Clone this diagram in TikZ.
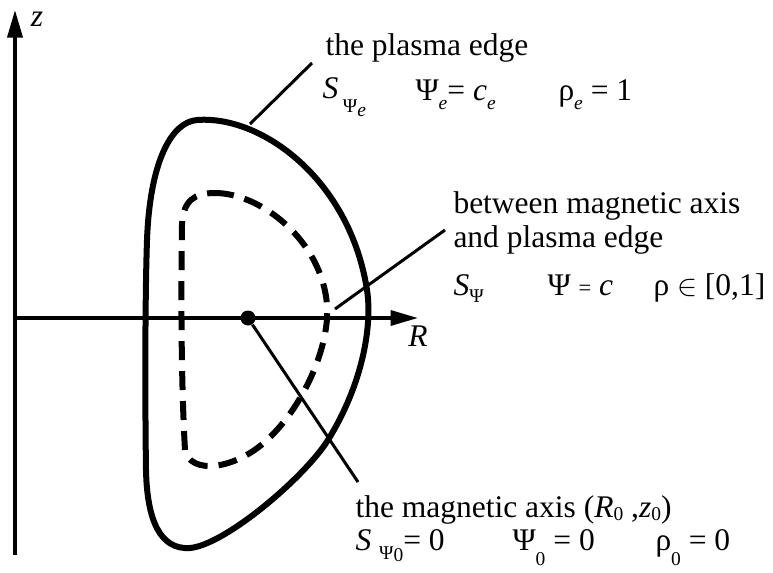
\documentclass[tikz,border=0pt]{standalone}
\usepackage{fontspec}
\setmainfont{Liberation Serif}
\usepackage{tikz}
\usetikzlibrary{arrows.meta,positioning}
\newcommand{\dropsub}[2]{\raisebox{#1}{\fontsize{7.8}{9}\selectfont #2}}

\begin{document}
\begin{tikzpicture}[x=0.4pt,y=-0.4pt,font=\fontsize{12.6}{15}\selectfont,
  txt/.style={inner sep=0pt,anchor=base west},
  axisline/.style={line width=1.4pt,-{Triangle[length=11pt,width=6pt]}},
  edgeline/.style={line width=2.4pt,line join=round},
  fluxline/.style={line width=2.4pt,dash pattern=on 7.6pt off 4.4pt},
  leader/.style={line width=1.2pt}]
  \useasboundingbox (0,0) rectangle (773,573);
  % axes
  \coordinate (zfoot) at (15,555);
  \coordinate (ztip) at (15,10);
  \coordinate (origin) at (15,318);
  \coordinate (Rtip) at (418,318);
  \draw[axisline] (zfoot) -- (ztip);
  \draw[axisline] (origin) -- (Rtip);
  \node[inner sep=0pt] (zlabel) at (37,19) {\textit{z}};
  \node[inner sep=0pt] (Rlabel) at (418,336) {\textit{R}};
  % plasma edge
  \draw[edgeline] (197,120) .. controls (262,115) and (350,180) .. (367,290)
    .. controls (372,322) and (365,380) .. (328,440)
    .. controls (305,477) and (225,545) .. (190,548)
    .. controls (160,550) and (147,520) .. (146,470)
    .. controls (145,400) and (145,300) .. (147,240)
    .. controls (150,160) and (172,122) .. cycle;
  % flux surface
  \draw[fluxline] (215,193) .. controls (260,193) and (322,240) .. (327,305)
    .. controls (330,344) and (305,405) .. (267,440)
    .. controls (235,470) and (190,475) .. (185,450)
    .. controls (181,380) and (181,290) .. (182,225)
    .. controls (183,200) and (195,193) .. cycle;
  % magnetic axis
  \node[circle,fill,inner sep=0pt,minimum size=6pt] (axisdot) at (248,318) {};
  % leaders
  \coordinate (edgetouch) at (250,124);
  \coordinate (edgetip) at (312,63);
  \coordinate (fluxtouch) at (335,309);
  \coordinate (fluxtip) at (445,230);
  \coordinate (axistip) at (358,482);
  \draw[leader] (edgetouch) -- (edgetip);
  \draw[leader] (fluxtouch) -- (fluxtip);
  \draw[leader] (axisdot) -- (axistip);
  % edge labels
  \node[txt] (edgetitle) at (325,55) {the plasma edge};
  \node[txt] (edgeS) at (322,98) {\textit{S}\kern0.15em\dropsub{-5.8pt}{Ψ\raisebox{-1.4pt}{\textit{e}}}};
  \node[txt] (edgePsi) at (415,100) {Ψ\dropsub{-3.6pt}{\textit{e}}= \textit{c}\dropsub{-3.6pt}{\textit{e}}};
  \node[txt] (edgeRho) at (558,100) {ρ\dropsub{-3.6pt}{\textit{e}} = 1};
  % surface labels
  \node[txt] (fluxtitle) at (453,213) {between magnetic axis};
  \node[txt] (fluxtitleb) at (453,247) {and plasma edge};
  \node[txt] (fluxS) at (453,295) {\textit{S}\dropsub{-3pt}{Ψ}};
  \node[txt] (fluxPsi) at (547,295) {Ψ {\fontsize{9}{10}\selectfont =} \textit{c}};
  \node[txt] (fluxRho) at (653,295) {ρ $\in$ [0,1]};
  % axis labels
  \node[txt] (axistitle) at (355,517) {the magnetic axis (\textit{R}\dropsub{-1.5pt}{0} ,\textit{z}\dropsub{-1.5pt}{0})};
  \node[txt] (axisS) at (355,550) {\textit{S} \dropsub{-3.6pt}{Ψ\raisebox{-1pt}{0}}= 0};
  \node[txt] (axisPsi) at (512,550) {Ψ\dropsub{-6pt}{0} = 0};
  \node[txt] (axisRho) at (655,550) {ρ\dropsub{-6pt}{0} = 0};
\end{tikzpicture}
\end{document}
